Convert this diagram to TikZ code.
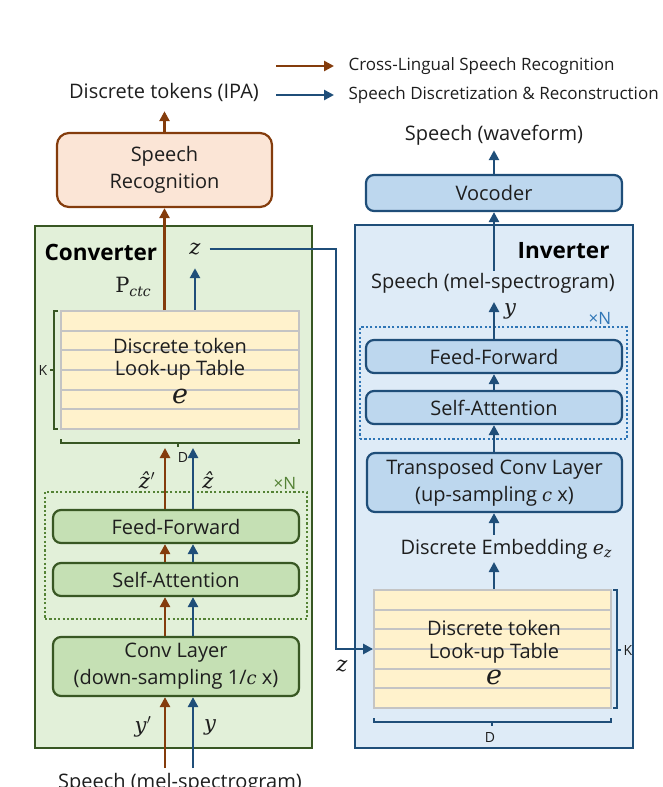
\documentclass[tikz,border=0pt]{standalone}
\usepackage{fontspec}
\setmainfont{Open Sans}
\newfontfamily\mfont{DejaVu Serif}
\usetikzlibrary{arrows.meta}
\definecolor{brn}{RGB}{132,60,12}
\definecolor{blu}{RGB}{31,78,121}
\definecolor{grnD}{RGB}{56,87,35}
\definecolor{grnT}{RGB}{84,130,53}
\definecolor{grnL}{RGB}{226,240,217}
\definecolor{grnM}{RGB}{197,224,180}
\definecolor{bluL}{RGB}{222,235,247}
\definecolor{bluM}{RGB}{189,215,238}
\definecolor{bluT}{RGB}{46,117,182}
\definecolor{pch}{RGB}{251,229,214}
\definecolor{tbl}{RGB}{255,242,204}
\definecolor{tblL}{RGB}{196,196,196}
\definecolor{txt}{RGB}{30,30,30}
\newcommand{\mainsz}{\fontsize{20}{27}\selectfont}
\newcommand{\legsz}{\fontsize{17}{20}\selectfont}
\newcommand{\smsz}{\fontsize{14}{16}\selectfont}
\newcommand{\xnsz}{\fontsize{17}{18}\selectfont}
\newcommand{\mathsz}{\fontsize{21}{24}\selectfont}
\newcommand{\mi}[1]{{\mfont\itshape #1}}
\newcommand{\prm}{\kern0.5pt\ensuremath{{}^{\boldsymbol{\prime}}}}
\newcommand{\sub}[2]{\raisebox{-#2}{\fontsize{14}{14}\selectfont\mi{#1}}}
\usepackage{amsmath}
\renewcommand{\prm}{\kern0.5pt\ensuremath{{}'}}
\begin{document}
\begin{tikzpicture}[x=1pt,y=-1pt,
  every node/.style={text=txt, font=\mainsz},
  arr/.style={line width=2.6pt, -{Triangle[length=10pt,width=10pt]}},
  box/.style={rounded corners=8pt, line width=2.2pt, align=center, inner sep=0pt},
  gbox/.style={box, draw=grnD, fill=grnM},
  bbox/.style={box, draw=blu, fill=bluM},
  panel/.style={line width=2.4pt, inner sep=0pt},
  tab/.style={draw=tblL, fill=tbl, line width=1.8pt, inner sep=0pt, minimum height=118},
  rowline/.style={draw=tblL, line width=1.8pt},
  brace/.style={line width=1.5pt},
  dotbox/.style={line width=2pt, dash pattern=on 2.2pt off 2.2pt, inner sep=0pt},
  lbl/.style={inner sep=0pt},
  mlbl/.style={inner sep=0pt, font=\mathsz},
  title/.style={font=\fontsize{22.5}{24}\selectfont\bfseries, text=black}
]
\useasboundingbox (0,0) rectangle (663,787);

% ---------- legend ----------
\coordinate (la1) at (276,66); \coordinate (lb1) at (334,66);
\coordinate (la2) at (276,95); \coordinate (lb2) at (334,95);
\draw[arr,brn] (la1) -- (lb1);
\draw[arr,blu] (la2) -- (lb2);
\node[anchor=west, font=\legsz] (lt1) at (345,66) {Cross-Lingual Speech Recognition};
\node[anchor=west, font=\legsz] (lt2) at (345,95) {Speech Discretization \& Reconstruction};

% ---------- left: converter ----------
\node[lbl, minimum height=38] (ipa) at (164,92) {Discrete tokens (IPA)};
\node[box, draw=brn, fill=pch, rounded corners=12pt, minimum width=215, minimum height=74] (sr) at (164.5,170) {Speech\\Recognition};
\draw[arr,brn] (sr.north) -- (sr.north |- ipa.south);

\node[panel, draw=grnD, fill=grnL, minimum width=277, minimum height=522] (conv) at (173.5,487) {};
\node[anchor=west, title] (convT) at (41,252) {Converter};
\node[mlbl, inner xsep=9pt, minimum height=38] (zC) at (195,249) {\mi{z}};
\node[mlbl] (pctc) at (133,287) {{\mfont P}\sub{ctc}{4pt}};

% table
\node[tab, minimum width=238] (tabC) at (180,370) {};
\foreach \k in {1,...,5} \draw[rowline] (61,311+19.67*\k) -- (299,311+19.67*\k);
\node[lbl] (tcC1) at (180,346) {Discrete token};
\node[lbl] (tcC2) at (180,370) {Look-up Table};
\node[lbl, font=\fontsize{27}{27}\selectfont] (tcC3) at (180,396) {\mi{e}};
\draw[brace, grnD] (58,311) -- (54,311) -- (54,429) -- (58,429) (54,370) -- (50,370);
\node[lbl, font=\smsz] (kC) at (43,370) {K};
\draw[brace, grnD] (61,439) -- (61,443) -- (299,443) -- (299,439) (178,443) -- (178,447);
\node[lbl, font=\smsz] (dC) at (183,457) {D};

\draw[arr,brn] (sr.south |- tabC.north) -- (sr.south);
\draw[arr,blu] (zC.south |- tabC.north) -- (zC.south);

% stack
\node[dotbox, draw=grnT, minimum width=262, minimum height=127] (dotC) at (176,555.5) {};
\node[lbl, text=grnT, font=\xnsz] (xnC) at (285,483) {×N};
\node[gbox, minimum width=246, minimum height=33] (ffC) at (176,526.5) {Feed-Forward};
\node[gbox, minimum width=246, minimum height=33] (saC) at (176,579.5) {Self-Attention};
\node[gbox, minimum width=246, minimum height=59] (cvC) at (176,666.5) {Conv Layer\\(down-sampling 1/{\fontsize{18}{18}\selectfont\mi{c}} x)};

\coordinate (bx) at (165,0); \coordinate (ux) at (193,0);
\coordinate (dTop) at (0,448);
\draw[arr,brn] (ffC.north -| bx) -- (dTop -| bx);
\draw[arr,blu] (ffC.north -| ux) -- (dTop -| ux);
\draw[arr,brn] (saC.north -| bx) -- (ffC.south -| bx);
\draw[arr,blu] (saC.north -| ux) -- (ffC.south -| ux);
\draw[arr,brn] (cvC.north -| bx) -- (saC.south -| bx);
\draw[arr,blu] (cvC.north -| ux) -- (saC.south -| ux);
\node[mlbl] (zh1) at (147,480) {\mi{ẑ}\prm};
\node[mlbl] (zh2) at (208,480) {\mi{ẑ}};

\node[anchor=base] (melC) at (180,788) {Speech (mel-spectrogram)};
\coordinate (inY) at (0,768);
\draw[arr,brn] (inY -| bx) -- (cvC.south -| bx);
\draw[arr,blu] (inY -| ux) -- (cvC.south -| ux);
\node[mlbl] (yp) at (143,727) {\mi{y}\prm};
\node[mlbl] (yy) at (210,727) {\mi{y}};

% ---------- right: inverter ----------
\node[lbl, minimum height=30] (wave) at (494,135) {Speech (waveform)};
\node[bbox, minimum width=256, minimum height=36] (voc) at (494,193) {Vocoder};
\draw[arr,blu] (voc.north) -- (voc.north |- wave.south);

\node[panel, draw=blu, fill=bluL, minimum width=278, minimum height=523] (inv) at (494,486.5) {};
\node[anchor=east, title] (invT) at (613,251) {Inverter};
\node[lbl, minimum height=24] (melI) at (493,283) {Speech (mel-spectrogram)};
\coordinate (vx) at (494,0);
\draw[arr,blu] (melI.north -| vx) -- (voc.south -| vx);

\node[dotbox, draw=bluT, minimum width=267, minimum height=112] (dotI) at (493.5,383) {};
\node[lbl, text=bluT, font=\xnsz] (xnI) at (600,318) {×N};
\node[bbox, minimum width=256, minimum height=33] (ffI) at (494,356.5) {Feed-Forward};
\node[bbox, minimum width=256, minimum height=33] (saI) at (494,407.5) {Self-Attention};
\node[bbox, minimum width=255, minimum height=59] (tcI) at (494.5,482.5) {Transposed Conv Layer\\(up-sampling {\fontsize{18}{18}\selectfont\mi{c}} x)};
\coordinate (yTop) at (0,302);
\draw[arr,blu] (ffI.north -| vx) -- (yTop -| vx);
\node[mlbl] (yI) at (510,311) {\mi{y}};
\draw[arr,blu] (saI.north -| vx) -- (ffI.south -| vx);
\draw[arr,blu] (tcI.north -| vx) -- (saI.south -| vx);

\node[lbl, minimum height=28] (emb) at (506,549) {Discrete Embedding {\fontsize{19}{19}\selectfont\mi{e}}\sub{z}{3pt}};
\draw[arr,blu] (emb.north -| vx) -- (tcI.south -| vx);

\node[tab, minimum width=237] (tabI) at (492.5,649) {};
\foreach \k in {1,...,5} \draw[rowline] (374,590+19.67*\k) -- (611,590+19.67*\k);
\node[lbl] (tcI1) at (494,628) {Discrete token};
\node[lbl] (tcI2) at (494,653) {Look-up Table};
\node[lbl, font=\fontsize{27}{27}\selectfont] (tcI3) at (494,677) {\mi{e}};
\coordinate (embB) at (494,562);
\draw[arr,blu] (tabI.north -| vx) -- (embB);
\draw[brace, blu] (613,590) -- (617,590) -- (617,708) -- (613,708) (617,650) -- (621,650);
\node[lbl, font=\smsz] (kI) at (628,650) {K};
\draw[brace, blu] (374,718) -- (374,722) -- (611,722) -- (611,718) (492,722) -- (492,726);
\node[lbl, font=\smsz] (dI) at (490,737) {D};

% ---------- z connector ----------
\coordinate (zbend) at (336,400);
\draw[arr,blu] (zC.east) -| (zbend) |- (tabI.west);
\node[mlbl] (zI) at (342,666) {\mi{z}};
\end{tikzpicture}
\end{document}
